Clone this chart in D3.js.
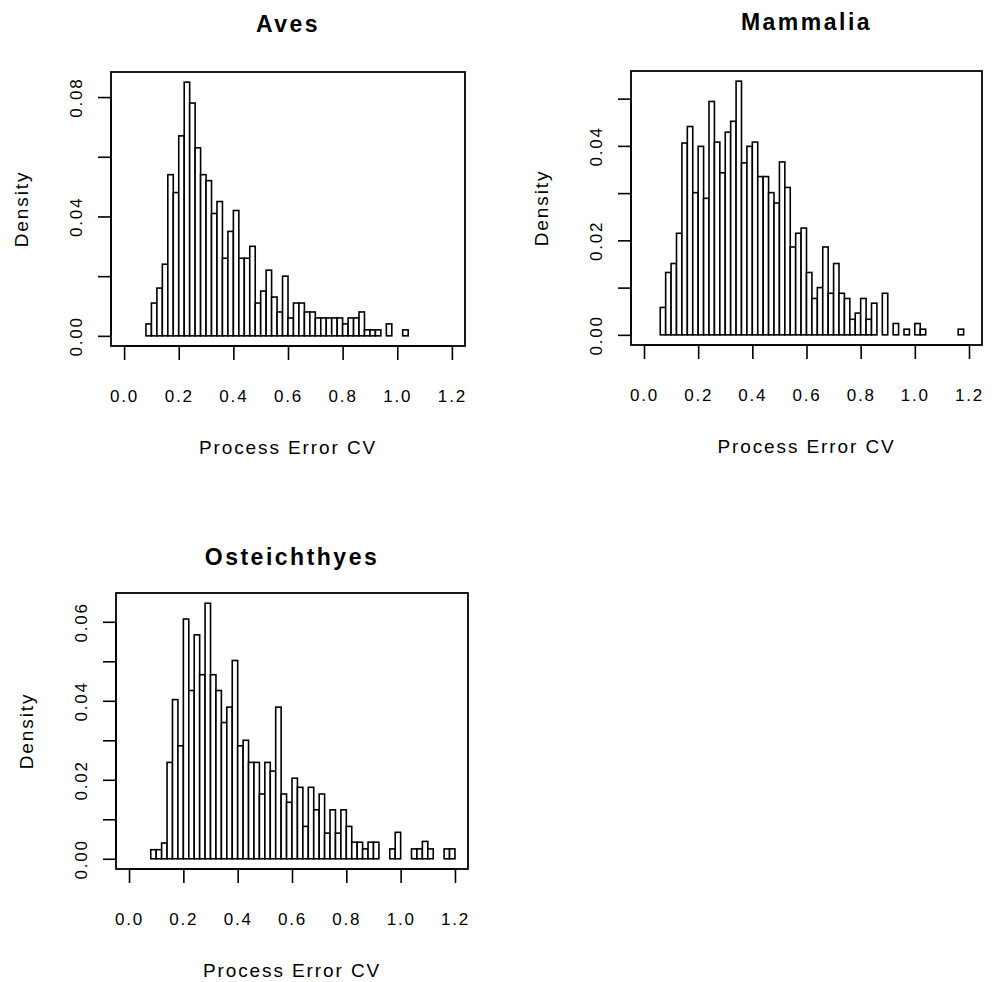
<!DOCTYPE html>
<html lang="en">

<head>
    <meta charset="UTF-8">
    <title>Process Error CV histograms</title>
    <script src="https://d3js.org/d3.v7.min.js"></script>
    <style>
        body {
            margin: 0;
            background: #fff;
        }

        text {
            font-family: "Liberation Sans", Arial, Helvetica, sans-serif;
            fill: #000;
        }
    </style>
</head>

<body>
    <svg width="993" height="982"></svg>

    <script>
        // histogram densities, bins of width 0.02
        const binWidth = 0.02;

        const avesStart = 0.08;
        const avesDensity = [
            0.004, 0.011, 0.016, 0.024, 0.054, 0.048, 0.067, 0.085, 0.078, 0.063,
            0.054, 0.052, 0.041, 0.045, 0.026, 0.035, 0.042, 0.026, 0.026, 0.030,
            0.011, 0.015, 0.022, 0.013, 0.008, 0.020, 0.006, 0.011, 0.011, 0.008,
            0.008, 0.006, 0.006, 0.006, 0.006, 0.006, 0.004, 0.006, 0.006, 0.008,
            0.002, 0.002, 0.002, 0.000, 0.004, 0.000, 0.000, 0.002
        ];

        const mammaliaStart = 0.06;
        const mammaliaDensity = [
            0.0058, 0.0132, 0.0151, 0.0215, 0.0406, 0.0441, 0.0301, 0.0399, 0.0289, 0.0494,
            0.0408, 0.0343, 0.0429, 0.0452, 0.0537, 0.0364, 0.0399, 0.0408, 0.0335, 0.0335,
            0.0301, 0.0279, 0.0366, 0.0312, 0.0186, 0.0215, 0.0226, 0.0132, 0.0077, 0.0100,
            0.0186, 0.0088, 0.0151, 0.0088, 0.0077, 0.0033, 0.0046, 0.0077, 0.0033, 0.0067,
            0.0000, 0.0088, 0.0000, 0.0024, 0.0000, 0.0012, 0.0000, 0.0024, 0.0012, 0.0000,
            0.0000, 0.0000, 0.0000, 0.0000, 0.0000, 0.0012
        ];

        const osteStart = 0.08;
        const osteDensity = [
            0.0023, 0.0023, 0.0040, 0.0244, 0.0403, 0.0286, 0.0607, 0.0426, 0.0567, 0.0466,
            0.0647, 0.0466, 0.0426, 0.0345, 0.0384, 0.0502, 0.0286, 0.0300, 0.0244, 0.0244,
            0.0164, 0.0244, 0.0222, 0.0384, 0.0164, 0.0143, 0.0204, 0.0181, 0.0082, 0.0181,
            0.0124, 0.0164, 0.0065, 0.0124, 0.0065, 0.0124, 0.0082, 0.0042, 0.0042, 0.0025,
            0.0042, 0.0042, 0.0000, 0.0000, 0.0025, 0.0067, 0.0000, 0.0000, 0.0025, 0.0025,
            0.0044, 0.0025, 0.0000, 0.0000, 0.0025, 0.0025
        ];

        const xTicks = [0, 0.2, 0.4, 0.6, 0.8, 1.0, 1.2];
        const avesYTicks = [0, 0.02, 0.04, 0.06, 0.08];
        const avesYLabels = [0, 0.04, 0.08];
        const mammaliaYTicks = [0, 0.01, 0.02, 0.03, 0.04, 0.05];
        const mammaliaYLabels = [0, 0.02, 0.04];
        const osteYTicks = [0, 0.01, 0.02, 0.03, 0.04, 0.05, 0.06];
        const osteYLabels = [0, 0.02, 0.04, 0.06];

        const svg = d3.select("svg");
        svg.append("rect").attr("width", 993).attr("height", 982).attr("fill", "#fff");

        function drawPanel(opts) {
            const { title, titleGap, start, density, yTicks, yLabels, box } = opts;
            const g = svg.append("g");

            // R style: xlim 0..1.2 and ylim 0..max, each padded by 4%
            const x = d3.scaleLinear().domain([-0.048, 1.248]).range([box.left, box.right]);
            const yMax = d3.max(density);
            const y = d3.scaleLinear().domain([-0.04 * yMax, 1.04 * yMax]).range([box.bottom, box.top]);

            // bars
            g.selectAll("rect.bar")
                .data(density)
                .join("rect")
                .attr("class", "bar")
                .attr("x", (d, i) => x(start + i * binWidth))
                .attr("width", (d, i) => x(start + (i + 1) * binWidth) - x(start + i * binWidth))
                .attr("y", d => y(d))
                .attr("height", d => y(0) - y(d))
                .attr("fill", "#fff")
                .attr("stroke", "#000")
                .attr("stroke-width", 1.6);

            // frame
            g.append("rect")
                .attr("x", box.left)
                .attr("y", box.top)
                .attr("width", box.right - box.left)
                .attr("height", box.bottom - box.top)
                .attr("fill", "none")
                .attr("stroke", "#000")
                .attr("stroke-width", 1.8);

            // x axis
            const xAxis = d3.axisBottom(x)
                .tickValues(xTicks)
                .tickSize(14)
                .tickSizeOuter(0)
                .tickFormat(d3.format(".1f"));
            const gx = g.append("g")
                .attr("transform", `translate(0,${box.bottom})`)
                .call(xAxis);
            gx.select(".domain")
                .attr("d", `M${x(0)},0H${x(1.2)}`)
                .attr("stroke-width", 1.6);
            gx.selectAll(".tick line").attr("stroke-width", 1.6);
            gx.selectAll(".tick text")
                .attr("font-size", 17)
                .attr("letter-spacing", "1.8px")
                .attr("dy", 0)
                .attr("y", 56);

            // y axis
            const yAxis = d3.axisLeft(y)
                .tickValues(yTicks)
                .tickSize(13)
                .tickSizeOuter(0)
                .tickFormat(d => yLabels.some(v => Math.abs(v - d) < 1e-9) ? d3.format(".2f")(d) : "");
            const gy = g.append("g")
                .attr("transform", `translate(${box.left},0)`)
                .call(yAxis);
            gy.select(".domain")
                .attr("d", `M0,${y(yTicks[0])}V${y(yTicks[yTicks.length - 1])}`)
                .attr("stroke-width", 1.6);
            gy.selectAll(".tick line").attr("stroke-width", 1.6);
            gy.selectAll(".tick text")
                .attr("font-size", 17)
                .attr("letter-spacing", "1.8px")
                .attr("x", null)
                .attr("dy", null)
                .attr("text-anchor", "middle")
                .attr("transform", "translate(-29,0) rotate(-90)");

            // labels
            g.append("text")
                .attr("x", (box.left + box.right) / 2)
                .attr("y", box.top - titleGap)
                .attr("text-anchor", "middle")
                .attr("font-size", 23)
                .attr("font-weight", "bold")
                .attr("letter-spacing", "2.5px")
                .text(title);

            g.append("text")
                .attr("x", (box.left + box.right) / 2)
                .attr("y", box.bottom + 108)
                .attr("text-anchor", "middle")
                .attr("font-size", 19)
                .attr("letter-spacing", "1.9px")
                .text("Process Error CV");

            g.append("text")
                .attr("transform", `translate(${box.left - 83},${(box.top + box.bottom) / 2}) rotate(-90)`)
                .attr("text-anchor", "middle")
                .attr("font-size", 19)
                .attr("letter-spacing", "1.9px")
                .text("Density");
        }

        drawPanel({
            title: "Aves", titleGap: 40, start: avesStart, density: avesDensity,
            yTicks: avesYTicks, yLabels: avesYLabels,
            box: { left: 111, right: 465, top: 72, bottom: 346 }
        });

        drawPanel({
            title: "Mammalia", titleGap: 41, start: mammaliaStart, density: mammaliaDensity,
            yTicks: mammaliaYTicks, yLabels: mammaliaYLabels,
            box: { left: 631, right: 982, top: 71, bottom: 345 }
        });

        drawPanel({
            title: "Osteichthyes", titleGap: 28, start: osteStart, density: osteDensity,
            yTicks: osteYTicks, yLabels: osteYLabels,
            box: { left: 116, right: 468, top: 593, bottom: 869 }
        });
    </script>
</body>

</html>
